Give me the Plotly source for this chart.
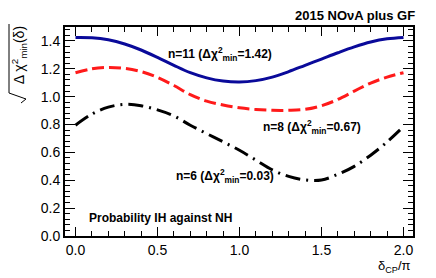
import plotly.graph_objects as go

delta = [0.0, 0.1, 0.2, 0.3, 0.4, 0.5, 0.6, 0.7, 0.8, 0.9, 1.0,
         1.1, 1.2, 1.3, 1.4, 1.5, 1.6, 1.7, 1.8, 1.9, 2.0]
n11 = [1.425, 1.423, 1.408, 1.378, 1.335, 1.282, 1.225, 1.172, 1.135, 1.112, 1.105,
       1.115, 1.140, 1.180, 1.225, 1.270, 1.315, 1.357, 1.392, 1.415, 1.425]
n8 = [1.172, 1.200, 1.210, 1.203, 1.180, 1.138, 1.080, 1.015, 0.968, 0.940, 0.920,
      0.908, 0.902, 0.902, 0.909, 0.935, 0.980, 1.040, 1.098, 1.140, 1.172]
n6 = [0.795, 0.875, 0.925, 0.945, 0.935, 0.905, 0.862, 0.795, 0.735, 0.676, 0.615,
      0.545, 0.475, 0.428, 0.403, 0.402, 0.443, 0.500, 0.580, 0.675, 0.785]
xticks = [0.0, 0.5, 1.0, 1.5, 2.0]
yticks = [0.0, 0.2, 0.4, 0.6, 0.8, 1.0, 1.2, 1.4]

FONT = "Liberation Sans, Arial, sans-serif"

fig = go.Figure()
fig.add_trace(go.Scatter(x=delta, y=n11, mode="lines", line=dict(color="#0a0a9a", width=3, shape="spline")))
fig.add_trace(go.Scatter(x=delta, y=n8, mode="lines", line=dict(color="#ff1a1a", width=3, shape="spline", dash="12px,5px")))
fig.add_trace(go.Scatter(x=delta, y=n6, mode="lines", line=dict(color="black", width=3, shape="spline", dash="15px,6px,2px,6px")))

axis_common = dict(showline=True, linecolor="black", linewidth=2, mirror="allticks",
                   ticks="inside", tickcolor="black", showgrid=False, zeroline=False,
                   tickfont=dict(family=FONT, size=14, color="black"))
fig.update_xaxes(range=[-0.064, 2.058], tickvals=xticks, ticktext=[f"{v:.1f}" for v in xticks],
                 ticklen=9, tickwidth=1,
                 minor=dict(dtick=0.1, ticks="inside", ticklen=5, tickcolor="black"),
                 **axis_common)
fig.update_yaxes(range=[0, 1.5], tickvals=yticks, ticktext=[f"{v:.1f}" for v in yticks],
                 ticklen=10, tickwidth=1,
                 minor=dict(dtick=0.04, ticks="inside", ticklen=5, tickcolor="black"),
                 **axis_common)

ann = []
lab = dict(showarrow=False, xanchor="left", yanchor="middle",
           font=dict(family=FONT, size=12, color="black"))
ann.append(dict(x=0.55, y=1.305, text="<b>n=11 (Δχ<sup>2</sup><sub>min</sub>=1.42)</b>", **lab))
ann.append(dict(x=1.13, y=0.78, text="<b>n=8 (Δχ<sup>2</sup><sub>min</sub>=0.67)</b>", **lab))
ann.append(dict(x=0.60, y=0.43, text="<b>n=6 (Δχ<sup>2</sup><sub>min</sub>=0.03)</b>", **lab))
ann.append(dict(x=0.069, y=0.128, text="<b>Probability IH against NH</b>", **lab))
ann.append(dict(xref="paper", yref="paper", x=1.011, y=1.057, xanchor="right", yanchor="middle",
                showarrow=False, text="<b>2015 NOνA plus GF</b>",
                font=dict(family=FONT, size=13, color="black")))
ann.append(dict(xref="paper", yref="paper", x=1.0, y=-0.144, xanchor="right", yanchor="middle",
                showarrow=False, text="δ<sub>CP</sub>/π",
                font=dict(family=FONT, size=13, color="black")))
ann.append(dict(xref="paper", yref="paper", x=-0.132, y=1.014, xanchor="center", yanchor="top",
                textangle=-90, showarrow=False,
                text="Δ χ<sup>2</sup><sub>min</sub>(δ)",
                font=dict(family=FONT, size=14, color="black")))

# square-root sign drawn around the rotated y title
def px(x):
    return (x - 65) / 348.0

def py(y):
    return (236 - y) / 209.0

root = [((9, 24), (9, 93)), ((9, 93), (26, 99)), ((26, 99), (21, 103))]
shapes = [dict(type="line", xref="paper", yref="paper", x0=px(a[0]), y0=py(a[1]),
               x1=px(b[0]), y1=py(b[1]), line=dict(color="black", width=1))
          for a, b in root]

fig.update_layout(width=436, height=278, margin=dict(l=65, r=23, t=27, b=42),
                  paper_bgcolor="white", plot_bgcolor="white", showlegend=False,
                  annotations=ann, shapes=shapes)
fig.write_html("out.html", config={"displayModeBar": False},
               post_script="document.body.style.margin='0';")
